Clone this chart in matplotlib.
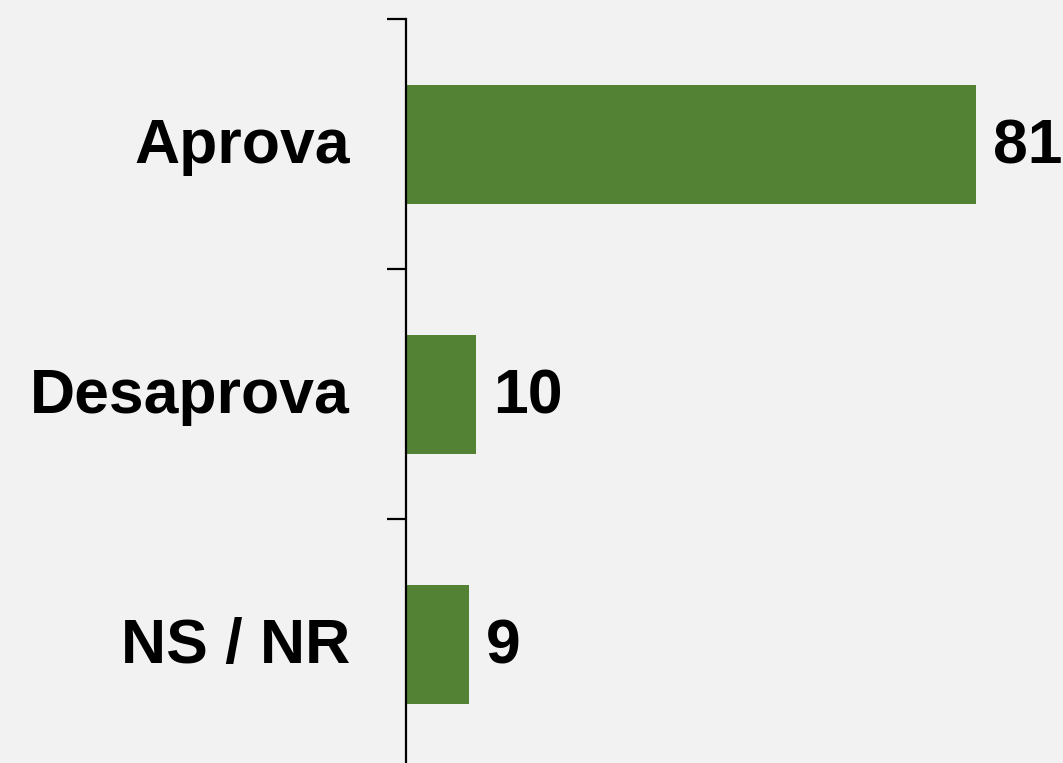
import matplotlib
matplotlib.use("Agg")
import matplotlib.pyplot as plt
from matplotlib.transforms import offset_copy

categories = ["Aprova", "Desaprova", "NS / NR"]
values = [81, 10, 9]

BG = "#f2f2f2"
GREEN = "#548235"

plt.rcParams["font.family"] = ["Liberation Sans", "DejaVu Sans"]

W, H = 1063, 763
fig = plt.figure(figsize=(W / 100, H / 100), dpi=100, facecolor=BG)
# axes: left spine at x=406px, top at y=19px, band of 250px per category
left = 406 / W
top = 1 - 19 / H
height = 750 / H
ax = fig.add_axes([left, top - height, 1 - left, height], facecolor=BG)

ypos = list(range(len(categories)))
ax.barh(ypos, values, height=0.476, color=GREEN)
ax.set_ylim(len(categories) - 0.5, -0.5)
ax.set_xlim(0, (W - 406) / (570 / 81))

for side in ["top", "right", "bottom"]:
    ax.spines[side].set_visible(False)
ax.spines["left"].set_linewidth(1.6)
ax.spines["left"].set_color("black")
ax.set_xticks([])
ax.set_yticks([i - 0.5 for i in range(len(categories) + 1)])
ax.set_yticklabels([])
ax.tick_params(axis="y", length=14, width=1.6, color="black")

label_tr = offset_copy(ax.transData, fig=fig, x=-56, y=-3, units="dots")
for y, cat in zip(ypos, categories):
    ax.text(0, y, cat, transform=label_tr, ha="right", va="center",
            fontsize=45, fontweight="bold", color="black")

val_tr = offset_copy(ax.transData, fig=fig, x=17, y=-3, units="dots")
for y, v in zip(ypos, values):
    ax.text(v, y, f"{v}", transform=val_tr, ha="left", va="center",
            fontsize=45, fontweight="bold", color="black", clip_on=False)

fig.savefig("out.png", dpi=100, facecolor=BG)
